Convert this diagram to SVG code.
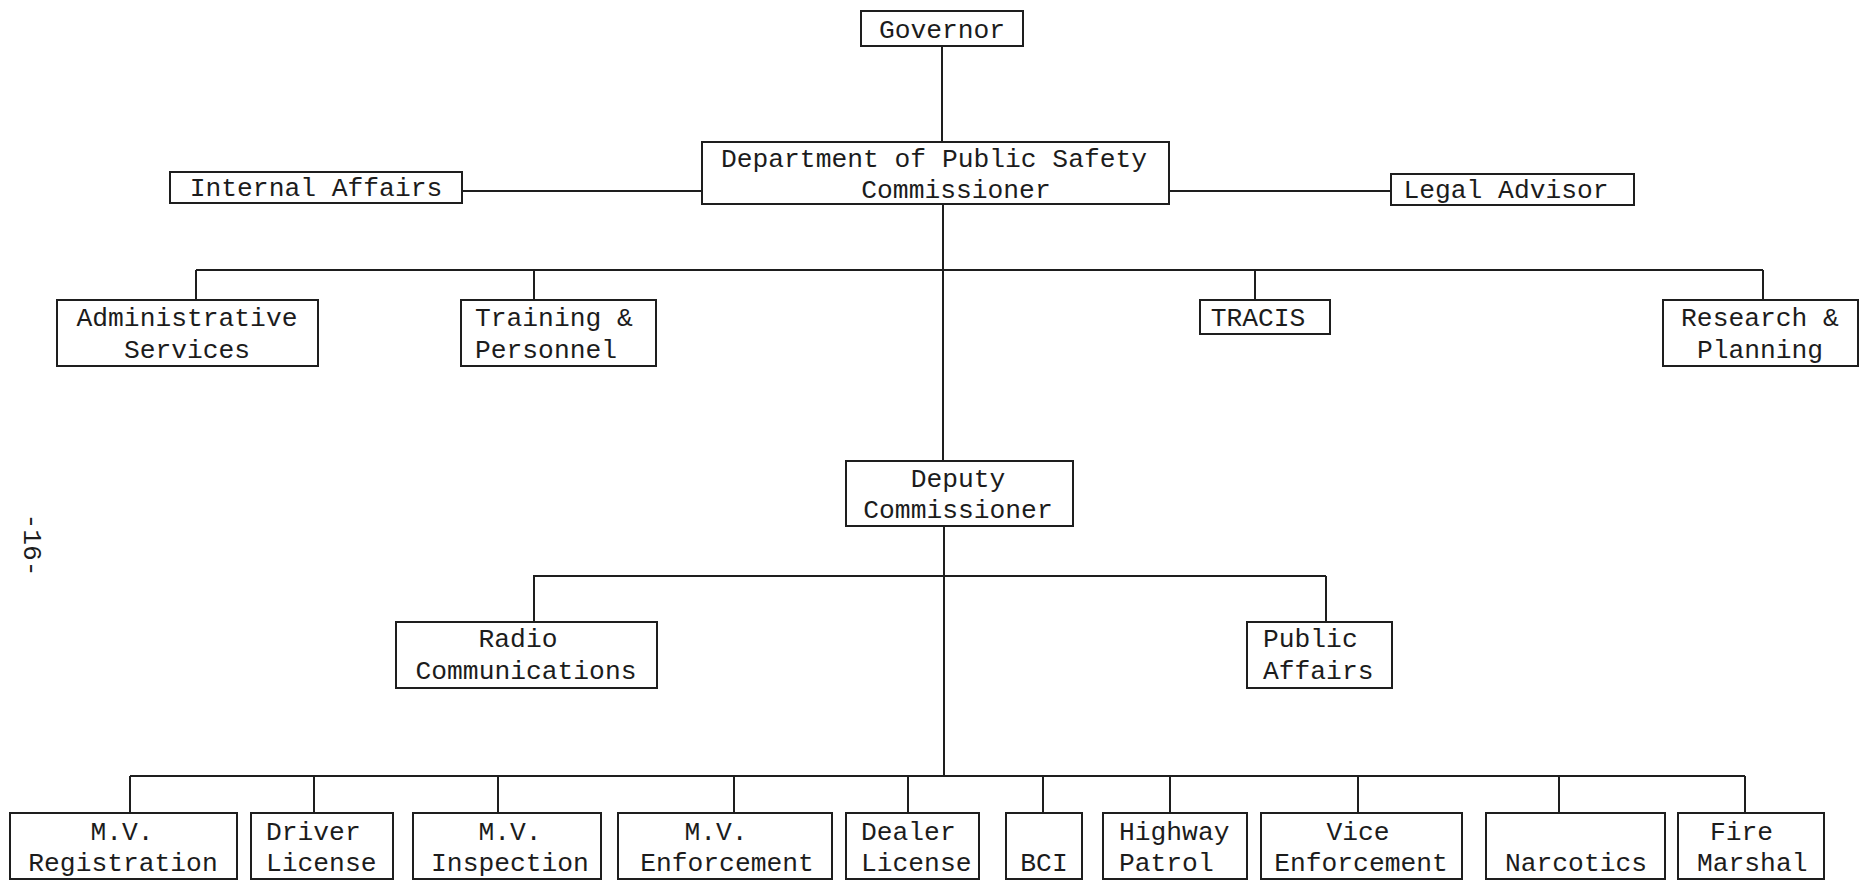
<svg xmlns="http://www.w3.org/2000/svg" width="1863" height="884" viewBox="0 0 1863 884">
<style>
.box{fill:none;stroke:#1e1e1e;stroke-width:2}
.ln{fill:none;stroke:#1e1e1e;stroke-width:2}
text{font-family:"Liberation Mono","DejaVu Sans Mono",monospace;font-size:26.3px;fill:#1c1c1c}
.m{text-anchor:middle}
</style>
<rect width="1863" height="884" fill="#ffffff"/>
<g id="connectors">
<path class="ln" d="M942 46V142"/>
<path class="ln" d="M462 191H702M1169 191H1391"/>
<path class="ln" d="M943 204V461"/>
<path class="ln" d="M196 270H1763M196 270V300M534 270V300M1255 270V300M1763 270V300"/>
<path class="ln" d="M944 526V776"/>
<path class="ln" d="M533 576H1326M534 576V622M1326 576V622"/>
<path class="ln" d="M130 776H1745M130 776V813M314 776V813M498 776V813M734 776V813M908 776V813M1043 776V813M1170 776V813M1358 776V813M1559 776V813M1745 776V813"/>
</g>
<g id="governor"><rect class="box" x="861" y="11" width="162" height="35"/><text class="m" x="942" y="38">Governor</text></g>
<g id="dps-commissioner"><rect class="box" x="702" y="142" width="467" height="62"/><text class="m" x="934" y="167">Department of Public Safety</text><text class="m" x="956" y="198">Commissioner</text></g>
<g id="internal-affairs"><rect class="box" x="170" y="172" width="292" height="31"/><text class="m" x="316" y="196">Internal Affairs</text></g>
<g id="legal-advisor"><rect class="box" x="1391" y="174" width="243" height="31"/><text class="m" x="1506" y="198">Legal Advisor</text></g>
<g id="administrative-services"><rect class="box" x="57" y="300" width="261" height="66"/><text class="m" x="187" y="326">Administrative</text><text class="m" x="187" y="358">Services</text></g>
<g id="training-personnel"><rect class="box" x="461" y="300" width="195" height="66"/><text x="475" y="326">Training &amp;</text><text x="475" y="358">Personnel</text></g>
<g id="tracis"><rect class="box" x="1200" y="300" width="130" height="34"/><text class="m" x="1258" y="326">TRACIS</text></g>
<g id="research-planning"><rect class="box" x="1663" y="300" width="195" height="66"/><text class="m" x="1760" y="326">Research &amp;</text><text class="m" x="1760" y="358">Planning</text></g>
<g id="deputy-commissioner"><rect class="box" x="846" y="461" width="227" height="65"/><text class="m" x="958" y="487">Deputy</text><text class="m" x="958" y="518">Commissioner</text></g>
<g id="radio-communications"><rect class="box" x="396" y="622" width="261" height="66"/><text class="m" x="518" y="647">Radio</text><text class="m" x="526" y="679">Communications</text></g>
<g id="public-affairs"><rect class="box" x="1247" y="622" width="145" height="66"/><text x="1263" y="647">Public</text><text x="1263" y="679">Affairs</text></g>
<g id="mv-registration"><rect class="box" x="10" y="813" width="227" height="66"/><text class="m" x="122" y="840">M.V.</text><text class="m" x="123" y="871">Registration</text></g>
<g id="driver-license"><rect class="box" x="251" y="813" width="142" height="66"/><text x="266" y="840">Driver</text><text x="266" y="871">License</text></g>
<g id="mv-inspection"><rect class="box" x="413" y="813" width="188" height="66"/><text class="m" x="510" y="840">M.V.</text><text class="m" x="510" y="871">Inspection</text></g>
<g id="mv-enforcement"><rect class="box" x="618" y="813" width="214" height="66"/><text class="m" x="716" y="840">M.V.</text><text class="m" x="727" y="871">Enforcement</text></g>
<g id="dealer-license"><rect class="box" x="846" y="813" width="133" height="66"/><text x="861" y="840">Dealer</text><text x="861" y="871">License</text></g>
<g id="bci"><rect class="box" x="1006" y="813" width="76" height="66"/><text class="m" x="1044" y="871">BCI</text></g>
<g id="highway-patrol"><rect class="box" x="1103" y="813" width="144" height="66"/><text x="1119" y="840">Highway</text><text x="1119" y="871">Patrol</text></g>
<g id="vice-enforcement"><rect class="box" x="1261" y="813" width="201" height="66"/><text class="m" x="1358" y="840">Vice</text><text class="m" x="1361" y="871">Enforcement</text></g>
<g id="narcotics"><rect class="box" x="1486" y="813" width="179" height="66"/><text class="m" x="1576" y="871">Narcotics</text></g>
<g id="fire-marshal"><rect class="box" x="1678" y="813" width="146" height="66"/><text x="1710" y="840">Fire</text><text x="1697" y="871">Marshal</text></g>
<text class="m" transform="translate(24 545) rotate(90)">-16-</text>
</svg>
